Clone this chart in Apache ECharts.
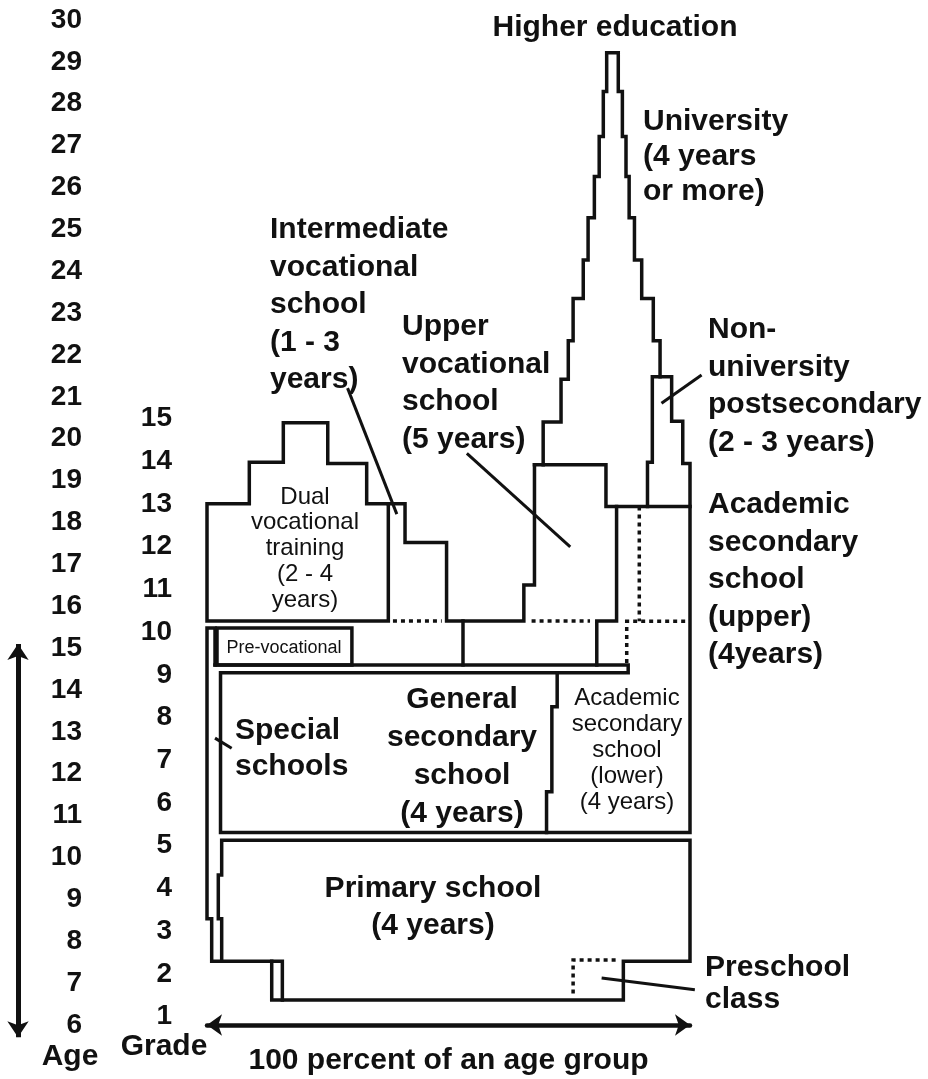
<!DOCTYPE html>
<html>
<head>
<meta charset="utf-8">
<script src="https://cdn.jsdelivr.net/npm/echarts@6/dist/echarts.min.js"></script>
<style>
  html, body { margin: 0; padding: 0; background: #fff; }
  #chart { width: 928px; height: 1079px; }
</style>
</head>
<body>
<div id="chart"></div>
<script>
// Austrian school system: x = percent of an age group, y = age

// grade numbers shown on the second axis
const gradeLabels = [1, 2, 3, 4, 5, 6, 7, 8, 9, 10, 11, 12, 13, 14, 15];
const gradeAxisRange = [0.806, 24.32];

// solid outlines, points are [percent, age]
const universitySpire = [
    [69.6, 19.38], [69.6, 20.40], [73.3, 20.40], [73.3, 21.42], [74.8, 21.42], [74.8, 22.34],
    [75.8, 22.34], [75.8, 23.35], [77.9, 23.35], [77.9, 24.27], [78.9, 24.27], [78.9, 25.28],
    [80.2, 25.28], [80.2, 26.26], [81.2, 26.26], [81.2, 27.22], [82.05, 27.22], [82.05, 28.29],
    [82.75, 28.29], [82.75, 29.22], [85.15, 29.22], [85.15, 28.29], [86.0, 28.29], [86.0, 27.22],
    [86.75, 27.22], [86.75, 26.26], [87.4, 26.26], [87.4, 25.28], [88.5, 25.28], [88.5, 24.27],
    [90.0, 24.27], [90.0, 23.35], [92.4, 23.35], [92.4, 22.34], [93.8, 22.34], [93.8, 21.48]
];
const nonUniversityAndSecondary = [
    [91.2, 18.38], [91.2, 19.44], [92.2, 19.44], [92.2, 21.48], [96.2, 21.48], [96.2, 20.42],
    [98.5, 20.42], [98.5, 19.41], [100, 19.41], [100, 10.60], [2.8, 10.60], [2.8, 14.41],
    [87.2, 14.41], [87.2, 14.60], [1.66, 14.60]
];
const upperVocationalTop = [[67.8, 19.38], [82.6, 19.38], [82.6, 18.38], [100, 18.38]];
const upperVocationalLeft = [
    [67.8, 19.38], [67.8, 16.51], [65.6, 16.51], [65.6, 15.65], [49.6, 15.65], [49.6, 17.52],
    [41.0, 17.52], [41.0, 18.45], [37.54, 18.45]
];
const dualVocational = [
    [37.54, 15.65], [37.54, 18.45], [33.06, 18.45], [33.06, 19.41], [25.0, 19.41], [25.0, 20.38],
    [15.8, 20.38], [15.8, 19.44], [8.76, 19.44], [8.76, 18.45], [0, 18.45], [0, 15.65], [37.54, 15.65]
];
const academicUpperLeft = [[80.7, 14.60], [80.7, 15.65], [84.8, 15.65], [84.8, 18.38]];
const preVocationalDivider = [[53.0, 15.65], [53.0, 14.60]];
const preVocationalBox = [[2.07, 15.48], [30.0, 15.48], [30.0, 14.60], [2.07, 14.60], [2.07, 15.48]];
const specialAndPrimary = [
    [1.66, 14.60], [1.66, 15.48], [0, 15.48], [0, 8.54], [0.97, 8.54], [0.97, 7.52], [13.4, 7.52],
    [13.4, 6.60], [86.2, 6.60], [86.2, 7.52], [100, 7.52], [100, 10.41], [3.04, 10.41], [3.04, 9.58],
    [2.34, 9.58], [2.34, 8.54], [3.04, 8.54], [3.04, 7.52]
];
const gradeOneStrip = [[13.4, 7.52], [15.6, 7.52], [15.6, 6.60]];
const academicLowerLeft = [
    [72.5, 14.41], [72.5, 13.60], [71.4, 13.60], [71.4, 11.57], [70.3, 11.57], [70.3, 10.60]
];

// dotted outlines
const intermediateBottom = [[38.5, 15.65], [48.6, 15.65]];
const upperVocationalBottom = [[67.2, 15.65], [79.3, 15.65]];
const academicUpperSplit = [[89.5, 18.38], [89.5, 15.64]];
const academicUpperBottom = [[99.0, 15.64], [86.9, 15.64], [86.9, 14.62]];
const preschoolClass = [[75.8, 6.75], [75.8, 7.55], [85.15, 7.55]];

// pointer lines from labels to their area
const pointerIntermediate = [[29.1, 21.21], [39.3, 18.20]];
const pointerUpperVocational = [[53.8, 19.65], [75.2, 17.42]];
const pointerNonUniversity = [[102.4, 21.52], [94.1, 20.85]];
const pointerSpecial = [[1.66, 12.85], [5.1, 12.61]];
const pointerPreschool = [[81.7, 7.12], [101.0, 6.84]];

// compulsory schooling arrow (ages 6 to 15)
const compulsoryArrow = [[-39.13, 15.10], [-39.13, 5.71]];

const ink = '#111111';
const fontFamily = '"Liberation Sans", Arial, Helvetica, sans-serif';

const chart = echarts.init(document.getElementById('chart'));

function path(coords) {
    return { coords: coords };
}

// labels: first line centre in pixels
function label(text, x, y, opts) {
    const size = opts.size || 30;
    const lh = opts.lh || 37;
    const align = opts.align || 'left';
    return {
        type: 'text',
        x: x,
        y: y - lh / 2,
        z: 100,
        style: {
            text: text,
            fill: ink,
            font: (opts.weight || 'bold') + ' ' + size + 'px ' + fontFamily,
            lineHeight: lh,
            align: align,
            textAlign: align,
            verticalAlign: 'top',
            textVerticalAlign: 'top'
        }
    };
}

const labels = [
    label('Higher education', 615, 28, { align: 'center', lh: 38 }),
    label('University\n(4 years\nor more)', 643, 122, { lh: 35 }),
    label('Intermediate\nvocational\nschool\n(1 - 3\nyears)', 270, 230, { lh: 37.5 }),
    label('Upper\nvocational\nschool\n(5 years)', 402, 327, { lh: 37.5 }),
    label('Non-\nuniversity\npostsecondary\n(2 - 3 years)', 708, 330, { lh: 37.5 }),
    label('Academic\nsecondary\nschool\n(upper)\n(4years)', 708, 505, { lh: 37.5 }),
    label('Special\nschools', 235, 731, { lh: 36 }),
    label('General\nsecondary\nschool\n(4 years)', 462, 700, { align: 'center', lh: 38 }),
    label('Primary school\n(4 years)', 433, 889, { align: 'center', lh: 37 }),
    label('Preschool\nclass', 705, 968, { lh: 32 }),
    label('Age', 70, 1057, { align: 'center' }),
    label('Grade', 164, 1047, { align: 'center' }),
    label('Dual\nvocational\ntraining\n(2 - 4\nyears)', 305, 497, { align: 'center', size: 24, lh: 25.8, weight: 'normal' }),
    label('Academic\nsecondary\nschool\n(lower)\n(4 years)', 627, 698, { align: 'center', size: 24, lh: 26, weight: 'normal' }),
    label('Pre-vocational', 284, 648, { align: 'center', size: 18, lh: 20, weight: 'normal' })
];

const option = {
    animation: false,
    backgroundColor: '#ffffff',
    textStyle: { fontFamily: fontFamily },
    grid: { left: 207, right: 238, top: 20, bottom: 54, outerBoundsMode: 'none' },
    xAxis: {
        type: 'value',
        min: 0,
        max: 100,
        axisLine: {
            show: true,
            onZero: false,
            symbol: ['arrow', 'arrow'],
            symbolSize: [16, 15],
            lineStyle: { color: ink, width: 4.5 }
        },
        axisTick: { show: false },
        axisLabel: { show: false },
        splitLine: { show: false },
        name: '100 percent of an age group',
        nameLocation: 'middle',
        nameGap: 21,
        nameTextStyle: { color: ink, fontSize: 30, fontWeight: 'bold', fontFamily: fontFamily }
    },
    yAxis: [
        {
            // age
            type: 'value',
            min: 6,
            max: 30,
            interval: 1,
            axisLine: { show: false },
            axisTick: { show: false },
            splitLine: { show: false },
            axisLabel: { margin: 125, color: ink, fontSize: 28, fontWeight: 'bold', fontFamily: fontFamily }
        },
        {
            // grade
            type: 'value',
            position: 'left',
            min: gradeAxisRange[0],
            max: gradeAxisRange[1],
            axisLine: { show: false },
            axisTick: { show: false },
            splitLine: { show: false },
            axisLabel: {
                customValues: gradeLabels,
                margin: 35,
                color: ink,
                fontSize: 28,
                fontWeight: 'bold',
                fontFamily: fontFamily,
                formatter: function (v) { return String(Math.round(v)); }
            }
        }
    ],
    series: [
        {
            name: 'outlines',
            type: 'lines',
            coordinateSystem: 'cartesian2d',
            polyline: true,
            clip: false,
            silent: true,
            lineStyle: { color: ink, width: 3.5, opacity: 1, cap: 'square', join: 'miter' },
            data: [
                universitySpire, nonUniversityAndSecondary, upperVocationalTop, upperVocationalLeft,
                dualVocational, academicUpperLeft, preVocationalDivider, preVocationalBox,
                specialAndPrimary, gradeOneStrip, academicLowerLeft
            ].map(path)
        },
        {
            name: 'dotted',
            type: 'lines',
            coordinateSystem: 'cartesian2d',
            polyline: true,
            clip: false,
            silent: true,
            lineStyle: { color: ink, width: 3.5, opacity: 1, type: [4, 4], cap: 'butt' },
            data: [
                intermediateBottom, upperVocationalBottom, academicUpperSplit, academicUpperBottom, preschoolClass
            ].map(path)
        },
        {
            name: 'pointers',
            type: 'lines',
            coordinateSystem: 'cartesian2d',
            clip: false,
            silent: true,
            lineStyle: { color: ink, width: 3, opacity: 1 },
            data: [
                pointerIntermediate, pointerUpperVocational, pointerNonUniversity, pointerSpecial, pointerPreschool
            ].map(path)
        },
        {
            name: 'compulsory',
            type: 'lines',
            coordinateSystem: 'cartesian2d',
            clip: false,
            silent: true,
            symbol: ['arrow', 'arrow'],
            symbolSize: 16,
            lineStyle: { color: ink, width: 5, opacity: 1 },
            data: [path(compulsoryArrow)]
        }
    ],
    graphic: labels
};

chart.setOption(option);

window.addEventListener('resize', () => {
    chart.resize();
});
</script>
</body>
</html>
